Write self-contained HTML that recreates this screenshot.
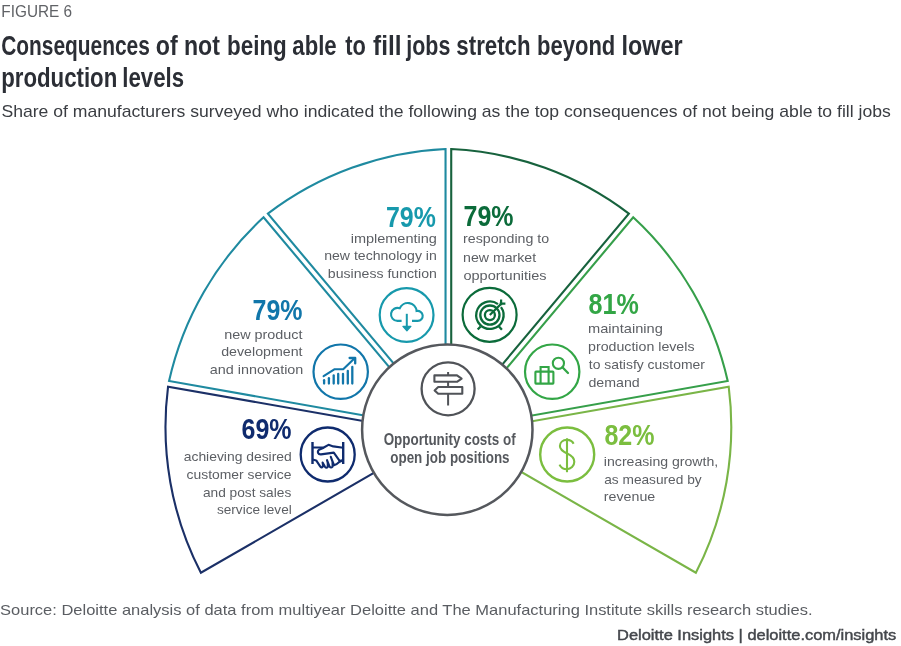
<!DOCTYPE html>
<html><head><meta charset="utf-8"><style>
html,body{margin:0;padding:0;background:#fff;width:901px;height:646px;overflow:hidden}
svg{display:block;font-family:"Liberation Sans",sans-serif;will-change:transform}
</style></head><body>
<svg width="901" height="646" viewBox="0 0 901 646">
<rect width="901" height="646" fill="#fff"/>
<path d="M484.44,450.70 L695.87,572.77 A317.73,317.73 0 0 0 728.70,386.62 L488.27,429.01" stroke="#7AB547" stroke-width="2.1" fill="none" stroke-linejoin="miter"/>
<path d="M487.28,423.42 L727.71,381.02 A317.73,317.73 0 0 0 633.20,217.32 L476.27,404.34" stroke="#369F4A" stroke-width="2.1" fill="none" stroke-linejoin="miter"/>
<path d="M471.92,400.69 L628.85,213.67 A317.73,317.73 0 0 0 451.22,149.02 L451.22,393.16" stroke="#17623D" stroke-width="2.1" fill="none" stroke-linejoin="miter"/>
<path d="M445.54,393.16 L445.54,149.02 A317.73,317.73 0 0 0 267.91,213.67 L424.84,400.69" stroke="#1F8AA0" stroke-width="2.1" fill="none" stroke-linejoin="miter"/>
<path d="M420.49,404.34 L263.56,217.32 A317.73,317.73 0 0 0 169.05,381.02 L409.48,423.42" stroke="#1F8AA0" stroke-width="2.1" fill="none" stroke-linejoin="miter"/>
<path d="M408.49,429.01 L168.06,386.62 A317.73,317.73 0 0 0 200.89,572.77 L412.32,450.70" stroke="#1B3067" stroke-width="2.1" fill="none" stroke-linejoin="miter"/>
<circle cx="447.3" cy="429.7" r="85.2" fill="#fff" stroke="#55585D" stroke-width="2.5"/>
<circle cx="406.6" cy="315.0" r="26.9" fill="none" stroke="#1799AC" stroke-width="2.2"/>
<path d="M401.6,320.9 H397.5 A6.5,6.5 0 1 1 399.73,308.29 A8.8,8.8 0 0 1 416.57,311.03 A5.0,5.0 0 1 1 417.7,320.9 H412" stroke="#1799AC" stroke-width="2.1" fill="none" stroke-linecap="butt"/>
<path d="M406.8,313.8 V327" stroke="#1799AC" stroke-width="2" fill="none"/>
<path d="M402.9,326.4 L410.9,326.4 L406.9,330.8 Z" fill="#1799AC" stroke="#1799AC" stroke-width="1.2" stroke-linejoin="round"/>
<circle cx="489.6" cy="314.8" r="27.0" fill="none" stroke="#0B6B3A" stroke-width="2.2"/>
<path d="M500.98,307.15 A13.7,13.7 0 1 1 497.95,304.12" stroke="#0B6B3A" stroke-width="2.3" fill="none"/>
<circle cx="489.9" cy="315.1" r="9.6" stroke="#0B6B3A" stroke-width="2.3" fill="none"/>
<circle cx="489.9" cy="315.1" r="5.0" stroke="#0B6B3A" stroke-width="2.3" fill="none"/>
<path d="M489.8,315.0 L501.1,303.9 M501.1,299.6 V305.2 M499.6,303.7 H505.4" stroke="#0B6B3A" stroke-width="2.2" fill="none"/>
<path d="M477.7,329.6 L480.6,326.4 M501.9,329.8 L499.0,326.6" stroke="#0B6B3A" stroke-width="2.3" fill="none"/>
<circle cx="340.7" cy="371.7" r="27.2" fill="none" stroke="#1176AA" stroke-width="2.2"/>
<path d="M324.1,380.2 V383.6" stroke="#1176AA" stroke-width="2.3" fill="none" stroke-linecap="round"/>
<path d="M328.9,378.2 V383.6" stroke="#1176AA" stroke-width="2.3" fill="none" stroke-linecap="round"/>
<path d="M333.7,375.4 V383.6" stroke="#1176AA" stroke-width="2.3" fill="none" stroke-linecap="round"/>
<path d="M338.2,374 V383.6" stroke="#1176AA" stroke-width="2.3" fill="none" stroke-linecap="round"/>
<path d="M343,374 V383.6" stroke="#1176AA" stroke-width="2.3" fill="none" stroke-linecap="round"/>
<path d="M347.8,371.0 V383.6" stroke="#1176AA" stroke-width="2.3" fill="none" stroke-linecap="round"/>
<path d="M352.3,367.0 V383.6" stroke="#1176AA" stroke-width="2.3" fill="none" stroke-linecap="round"/>
<path d="M323.6,376.2 L334.7,369.2 L343.2,369.2 L354.6,358.2" stroke="#1176AA" stroke-width="2.1" fill="none" stroke-linejoin="round" stroke-linecap="round"/>
<path d="M349.6,358.0 H355.2 V363.4" stroke="#1176AA" stroke-width="2.3" fill="none" stroke-linecap="round" stroke-linejoin="round"/>
<circle cx="552.2" cy="371.7" r="27.2" fill="none" stroke="#33A646" stroke-width="2.2"/>
<rect x="535.4" y="371.6" width="18.0" height="12.0" stroke="#33A646" stroke-width="2.1" fill="none" rx="0.6"/>
<path d="M540.6,383.6 V367.0 H548.6 V383.6" stroke="#33A646" stroke-width="2.1" fill="none"/>
<circle cx="558.4" cy="363.3" r="5.6" stroke="#33A646" stroke-width="2.1" fill="none"/>
<path d="M562.4,367.3 L568.0,373.0" stroke="#33A646" stroke-width="2.3" fill="none" stroke-linecap="round"/>
<circle cx="327.7" cy="454.5" r="27.0" fill="none" stroke="#0F2B6E" stroke-width="2.3"/>
<path d="M312.5,443.3 V462.7 M343.2,443.3 V462.7" stroke="#0F2B6E" stroke-width="2.4" fill="none" stroke-linecap="square"/>
<path d="M312.5,447.5 H323.8 L328.5,444.8 L333.3,446.4 L343.2,447.7" stroke="#0F2B6E" stroke-width="2.1" fill="none" stroke-linejoin="round"/>
<path d="M323.8,447.8 L319.6,449.4 Q317.4,450.8 318.0,452.8 Q318.8,454.6 321.0,454.4 L333.8,452.6 L339.6,460.8 L343.2,460.3" stroke="#0F2B6E" stroke-width="2.1" fill="none" stroke-linejoin="round"/>
<path d="M312.5,459.4 L316.2,460.4 L320.0,466.2 Q321.4,468.4 322.8,466.6 Q323.2,464.4 322.6,462.6 L325.0,466.8 Q326.4,468.6 327.8,466.8 Q328.2,463.0 327.0,460.2 L329.6,466.6 Q331.0,468.4 332.6,466.6 Q333.0,461.0 330.8,456.8 L334.0,465.2 Q336.6,464.6 339.2,462.0 L343.2,460.3" stroke="#0F2B6E" stroke-width="2.1" fill="none" stroke-linejoin="round"/>
<circle cx="567.2" cy="454.5" r="27.0" fill="none" stroke="#7BBE3F" stroke-width="2.4"/>
<path d="M567,438.3 V472.2" stroke="#7BBE3F" stroke-width="2.1" fill="none"/>
<path d="M573.6,443.8 C572.3,441.0 569.5,439.9 567,439.9 C562.6,439.9 559.9,442.6 559.9,446.0 C559.9,450.0 563.5,451.8 567.2,453.5 C571,455.3 574.3,457.3 574.3,461.8 C574.3,466 570.8,469.2 567,469.2 C563.5,469.2 560.8,467.5 559.5,464.6" stroke="#7BBE3F" stroke-width="2.1" fill="none"/>
<circle cx="448.1" cy="388.8" r="26.5" fill="none" stroke="#505358" stroke-width="2.3"/>
<path d="M448.1,372.0 V375 M448.1,382 V386.6 M448.1,393.8 V405.6" stroke="#505358" stroke-width="2" fill="none"/>
<path d="M434.4,375.4 H457.0 L461.6,378.6 L457.0,381.8 H434.4 Z" stroke="#505358" stroke-width="2.1" fill="none" stroke-linejoin="round"/>
<path d="M462.3,387.0 H438.2 L434.6,390.4 L438.2,393.8 H462.3 Z" stroke="#505358" stroke-width="2.1" fill="none" stroke-linejoin="round"/>
<text x="1.37" y="17.4" font-size="16.6" fill="#606266" textLength="70.77" lengthAdjust="spacingAndGlyphs">FIGURE 6</text>
<text x="1.16" y="54.8" font-size="27" fill="#2B2E35" font-weight="bold" textLength="148.65" lengthAdjust="spacingAndGlyphs">Consequences</text>
<text x="155.77" y="54.8" font-size="27" fill="#2B2E35" font-weight="bold" textLength="21.90" lengthAdjust="spacingAndGlyphs">of</text>
<text x="184.00" y="54.8" font-size="27" fill="#2B2E35" font-weight="bold" textLength="35.94" lengthAdjust="spacingAndGlyphs">not</text>
<text x="227.04" y="54.8" font-size="27" fill="#2B2E35" font-weight="bold" textLength="59.75" lengthAdjust="spacingAndGlyphs">being</text>
<text x="292.34" y="54.8" font-size="27" fill="#2B2E35" font-weight="bold" textLength="44.26" lengthAdjust="spacingAndGlyphs">able</text>
<text x="345.18" y="54.8" font-size="27" fill="#2B2E35" font-weight="bold" textLength="20.57" lengthAdjust="spacingAndGlyphs">to</text>
<text x="373.04" y="54.8" font-size="27" fill="#2B2E35" font-weight="bold" textLength="28.38" lengthAdjust="spacingAndGlyphs">fill</text>
<text x="406.32" y="54.8" font-size="27" fill="#2B2E35" font-weight="bold" textLength="44.05" lengthAdjust="spacingAndGlyphs">jobs</text>
<text x="456.32" y="54.8" font-size="27" fill="#2B2E35" font-weight="bold" textLength="74.31" lengthAdjust="spacingAndGlyphs">stretch</text>
<text x="537.07" y="54.8" font-size="27" fill="#2B2E35" font-weight="bold" textLength="78.18" lengthAdjust="spacingAndGlyphs">beyond</text>
<text x="621.56" y="54.8" font-size="27" fill="#2B2E35" font-weight="bold" textLength="61.11" lengthAdjust="spacingAndGlyphs">lower</text>
<text x="1.26" y="86.6" font-size="27" fill="#2B2E35" font-weight="bold" textLength="116.01" lengthAdjust="spacingAndGlyphs">production</text>
<text x="122.35" y="86.6" font-size="27" fill="#2B2E35" font-weight="bold" textLength="61.65" lengthAdjust="spacingAndGlyphs">levels</text>
<text x="1.41" y="117.4" font-size="16.6" fill="#3A3D42" textLength="889.45" lengthAdjust="spacingAndGlyphs">Share of manufacturers surveyed who indicated the following as the top consequences of not being able to fill jobs</text>
<text x="386.00" y="226.9" font-size="29.58" fill="#1799AC" font-weight="bold" textLength="49.86" lengthAdjust="spacingAndGlyphs">79%</text>
<text x="350.66" y="242.6" font-size="13" fill="#5C5F64" textLength="86.22" lengthAdjust="spacingAndGlyphs">implementing</text>
<text x="324.19" y="260.4" font-size="13" fill="#5C5F64" textLength="112.64" lengthAdjust="spacingAndGlyphs">new technology in</text>
<text x="327.88" y="278.1" font-size="13" fill="#5C5F64" textLength="108.96" lengthAdjust="spacingAndGlyphs">business function</text>
<text x="463.50" y="226.31" font-size="28.73" fill="#0B6B3A" font-weight="bold" textLength="49.96" lengthAdjust="spacingAndGlyphs">79%</text>
<text x="463.08" y="243.4" font-size="13" fill="#5C5F64" textLength="86.10" lengthAdjust="spacingAndGlyphs">responding to</text>
<text x="463.08" y="261.6" font-size="13" fill="#5C5F64" textLength="73.04" lengthAdjust="spacingAndGlyphs">new market</text>
<text x="463.42" y="279.6" font-size="13" fill="#5C5F64" textLength="83.21" lengthAdjust="spacingAndGlyphs">opportunities</text>
<text x="252.50" y="320.3" font-size="29.72" fill="#1176AA" font-weight="bold" textLength="49.96" lengthAdjust="spacingAndGlyphs">79%</text>
<text x="224.17" y="338.7" font-size="13" fill="#5C5F64" textLength="78.35" lengthAdjust="spacingAndGlyphs">new product</text>
<text x="221.23" y="356.4" font-size="13" fill="#5C5F64" textLength="81.26" lengthAdjust="spacingAndGlyphs">development</text>
<text x="209.83" y="374.1" font-size="13" fill="#5C5F64" textLength="93.52" lengthAdjust="spacingAndGlyphs">and innovation</text>
<text x="588.55" y="313.5" font-size="29.58" fill="#33A646" font-weight="bold" textLength="50.22" lengthAdjust="spacingAndGlyphs">81%</text>
<text x="588.05" y="332.6" font-size="13" fill="#5C5F64" textLength="74.79" lengthAdjust="spacingAndGlyphs">maintaining</text>
<text x="588.08" y="350.5" font-size="13" fill="#5C5F64" textLength="106.41" lengthAdjust="spacingAndGlyphs">production levels</text>
<text x="588.79" y="368.6" font-size="13" fill="#5C5F64" textLength="116.13" lengthAdjust="spacingAndGlyphs">to satisfy customer</text>
<text x="588.43" y="386.7" font-size="13" fill="#5C5F64" textLength="51.27" lengthAdjust="spacingAndGlyphs">demand</text>
<text x="241.53" y="439.31" font-size="28.73" fill="#0F2B6E" font-weight="bold" textLength="50.04" lengthAdjust="spacingAndGlyphs">69%</text>
<text x="183.74" y="460.8" font-size="13" fill="#5C5F64" textLength="108.00" lengthAdjust="spacingAndGlyphs">achieving desired</text>
<text x="186.54" y="478.9" font-size="13" fill="#5C5F64" textLength="104.92" lengthAdjust="spacingAndGlyphs">customer service</text>
<text x="202.95" y="497.0" font-size="13" fill="#5C5F64" textLength="88.31" lengthAdjust="spacingAndGlyphs">and post sales</text>
<text x="216.99" y="514.4" font-size="13" fill="#5C5F64" textLength="74.72" lengthAdjust="spacingAndGlyphs">service level</text>
<text x="604.45" y="444.51" font-size="29.3" fill="#7BBE3F" font-weight="bold" textLength="50.11" lengthAdjust="spacingAndGlyphs">82%</text>
<text x="603.88" y="465.7" font-size="13" fill="#5C5F64" textLength="114.32" lengthAdjust="spacingAndGlyphs">increasing growth,</text>
<text x="604.25" y="483.5" font-size="13" fill="#5C5F64" textLength="97.35" lengthAdjust="spacingAndGlyphs">as measured by</text>
<text x="603.88" y="501.3" font-size="13" fill="#5C5F64" textLength="51.35" lengthAdjust="spacingAndGlyphs">revenue</text>
<text x="383.66" y="445.2" font-size="15.6" fill="#55585D" font-weight="bold" textLength="132.01" lengthAdjust="spacingAndGlyphs">Opportunity costs of</text>
<text x="390.26" y="462.7" font-size="15.6" fill="#55585D" font-weight="bold" textLength="119.32" lengthAdjust="spacingAndGlyphs">open job positions</text>
<text x="0.06" y="615" font-size="15" fill="#5A5D62" textLength="812.49" lengthAdjust="spacingAndGlyphs">Source: Deloitte analysis of data from multiyear Deloitte and The Manufacturing Institute skills research studies.</text>
<text stroke="#44474C" stroke-width="0.45" x="617.09" y="640.1" font-size="15.5" fill="#44474C" textLength="279.20" lengthAdjust="spacingAndGlyphs">Deloitte Insights | deloitte.com/insights</text>
</svg>
</body></html>
